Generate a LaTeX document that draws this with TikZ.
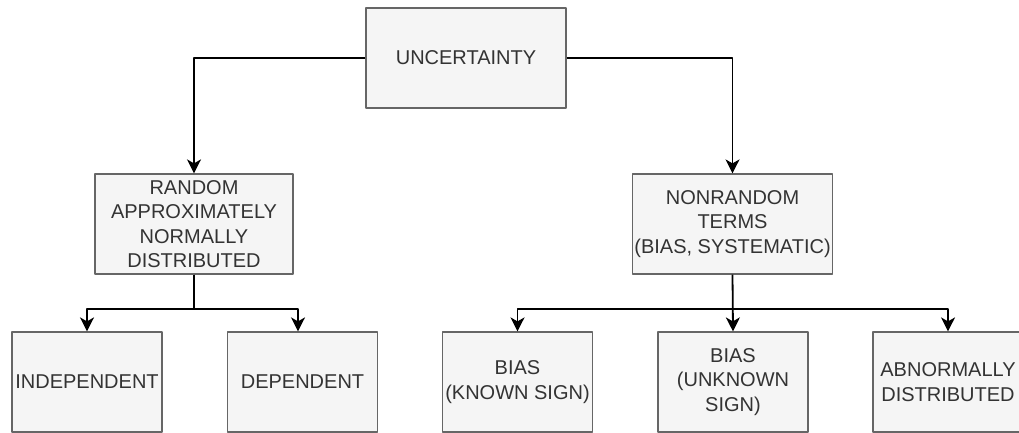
\documentclass[tikz,border=0pt]{standalone}
\usepackage{fontspec}
\setmainfont{Liberation Sans}
\usetikzlibrary{arrows.meta}
\definecolor{boxfill}{HTML}{F5F5F5}
\definecolor{boxline}{HTML}{666666}
\definecolor{boxtext}{HTML}{333333}
\begin{document}
\begin{tikzpicture}[x=1pt,y=-1pt,>={Stealth[length=14pt,width=14pt,inset=4pt]}, line join=round,
  box/.style={draw=boxline, line width=1.2pt, fill=boxfill, text=boxtext, align=center, inner sep=0pt, minimum height=100pt, font=\fontsize{20}{24.5}\selectfont},
  link/.style={->, line width=1.8pt}]
\useasboundingbox (0,0) rectangle (1019,433);
\node[box, minimum width=200pt] (unc) at (466,58) {UNCERTAINTY};
\node[box, minimum width=198pt] (rnd) at (194,224) {RANDOM\\APPROXIMATELY\\NORMALLY\\DISTRIBUTED};
\node[box, minimum width=200pt] (nonrnd) at (732.5,224) {NONRANDOM\\TERMS\\(BIAS, SYSTEMATIC)};
\foreach \n/\x/\t in {indep/87/INDEPENDENT, dep/302.5/DEPENDENT, known/517.5/{BIAS\\(KNOWN SIGN)}, unknown/733/{BIAS\\(UNKNOWN\\SIGN)}, abn/948/{ABNORMALLY\\DISTRIBUTED}}
  \node[box, minimum width=150pt] (\n) at (\x,382) {\t};
\draw[link] (unc.west) -| (rnd.north);
\draw[link] (unc.east) -| (nonrnd.north);
\draw[link] (rnd.south) -- ++(0,34) -| (indep.north);
\draw[link] (rnd.south) -- ++(0,34) -| ([xshift=-4.5pt]dep.north);
\draw[link] (nonrnd.south) -- (unknown.north);
\foreach \n in {known, abn}
  \draw[link] (nonrnd.south) -- ++(0,34) -| (\n.north);
\end{tikzpicture}
\end{document}
